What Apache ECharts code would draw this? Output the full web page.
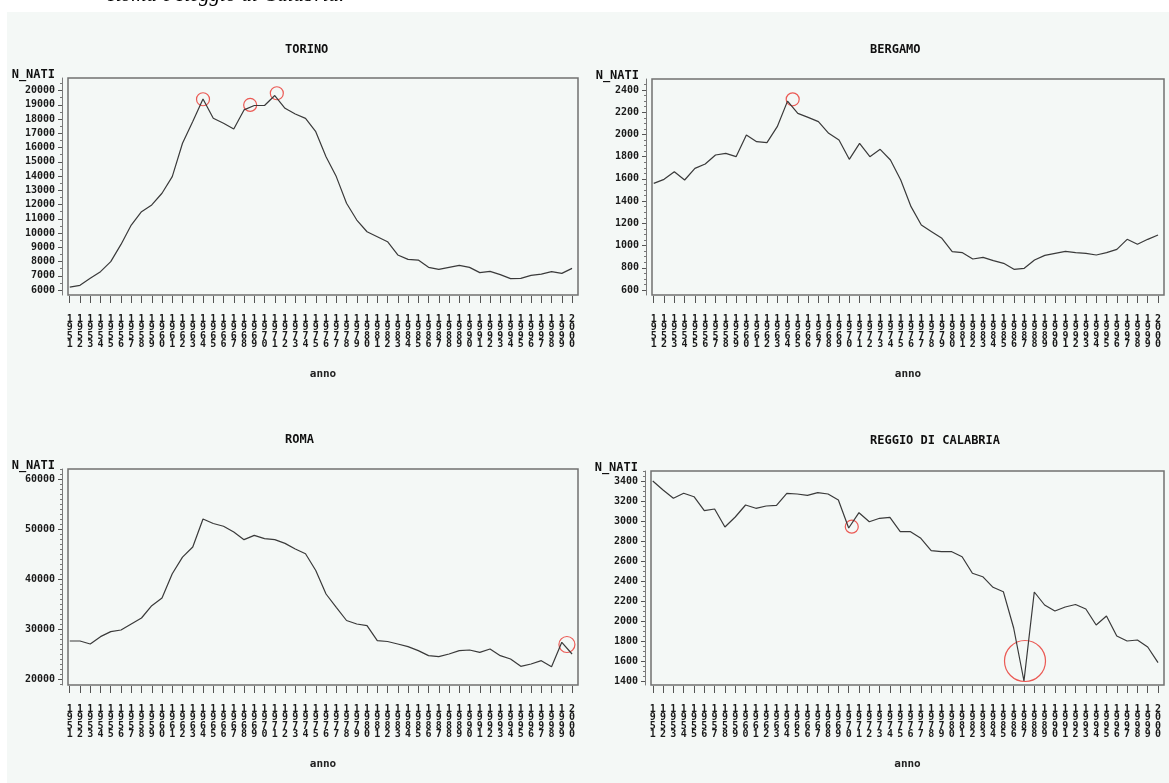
<!DOCTYPE html>
<html><head><meta charset="utf-8">
<script src="https://cdn.jsdelivr.net/npm/echarts@6/dist/echarts.min.js"></script>
<style>html,body{margin:0;padding:0;background:#fff}#c{width:1169px;height:783px}</style>
</head><body><div id="c"></div>
<script>
const years = [1951,1952,1953,1954,1955,1956,1957,1958,1959,1960,1961,1962,1963,1964,1965,1966,1967,1968,1969,1970,
  1971,1972,1973,1974,1975,1976,1977,1978,1979,1980,1981,1982,1983,1984,1985,1986,1987,1988,1989,1990,
  1991,1992,1993,1994,1995,1996,1997,1998,1999,2000];

const torino = [6200,6330,6820,7290,7990,9200,10560,11500,11970,12790,13960,16300,17820,19400,18050,17700,17300,18640,18950,18950,
  19650,18750,18350,18050,17110,15360,13960,12090,10910,10090,9740,9390,8460,8150,8100,7590,7450,7590,7730,7590,
  7220,7310,7080,6800,6820,7030,7120,7290,7170,7520];
const bergamo = [1560,1596,1665,1590,1695,1734,1815,1830,1800,1995,1935,1926,2070,2300,2190,2154,2115,2010,1950,1776,
  1920,1800,1866,1770,1590,1350,1185,1125,1065,945,936,879,894,864,840,786,795,870,912,930,
  948,936,930,915,936,966,1056,1011,1056,1095];
const roma = [27600,27600,27000,28470,29470,29800,31000,32200,34660,36200,41040,44380,46390,52000,51100,50550,49400,47870,48730,48070,
  47870,47130,46000,45060,41700,37000,34330,31700,31000,30670,27670,27500,27000,26470,25670,24670,24470,25000,25670,25800,
  25330,26000,24670,24000,22530,23000,23670,22470,27330,25000];
const reggio = [3400,3310,3227,3277,3243,3103,3120,2940,3040,3160,3127,3150,3157,3277,3270,3257,3283,3270,3210,2930,
  3083,2993,3027,3037,2893,2893,2827,2703,2693,2693,2643,2477,2443,2337,2293,1930,1400,2290,2160,2100,
  2140,2165,2120,1960,2050,1850,1800,1810,1740,1583];

const torinoTicks = [6000,7000,8000,9000,10000,11000,12000,13000,14000,15000,16000,17000,18000,19000,20000];
const bergamoTicks = [600,800,1000,1200,1400,1600,1800,2000,2200,2400];
const romaTicks = [20000,30000,40000,50000,60000];
const reggioTicks = [1400,1600,1800,2000,2200,2400,2600,2800,3000,3200,3400];

const torinoCircles = [[1964,19390],[1968.6,18990],[1971.2,19810]];
const bergamoCircles = [[1964.5,2316]];
const romaCircles = [[1999.5,26900]];
const reggioCircles = [[1970.3,2943]];
const reggioBigCircles = [[1987.1,1600]];

const titles = ['TORINO','BERGAMO','ROMA','REGGIO DI CALABRIA'];
const yName = 'N_NATI';
const xName = 'anno';

const panels = [
  {title:titles[0], values:torino, ticks:torinoTicks, minorStep:500, yMin:5650, yMax:20880,
   circles:[{d:torinoCircles,s:13}], grid:{left:68,top:78,width:510,height:217}, titleX:285, titleY:50},
  {title:titles[1], values:bergamo, ticks:bergamoTicks, minorStep:50, yMin:555, yMax:2499,
   circles:[{d:bergamoCircles,s:13}], grid:{left:652,top:79,width:512,height:216}, titleX:870, titleY:50},
  {title:titles[2], values:roma, ticks:romaTicks, minorStep:1000, yMin:18800, yMax:62000,
   circles:[{d:romaCircles,s:16}], grid:{left:68,top:469,width:510,height:216}, titleX:285, titleY:440},
  {title:titles[3], values:reggio, ticks:reggioTicks, minorStep:50, yMin:1360, yMax:3500,
   circles:[{d:reggioCircles,s:13},{d:reggioBigCircles,s:41}], grid:{left:651,top:471,width:513,height:214}, titleX:870, titleY:441}
];

const MONO = '"DejaVu Sans Mono", "Liberation Mono", monospace';
const grids = [], xAxes = [], yAxes = [], series = [], graphics = [];

graphics.push({type:'rect', shape:{x:0,y:0,width:1169,height:12}, style:{fill:'#ffffff'}, silent:true});
graphics.push({type:'rect', shape:{x:0,y:0,width:7,height:783}, style:{fill:'#ffffff'}, silent:true});
graphics.push({type:'text', x:108, y:6, style:{text:'Roma e Reggio di Calabria.', font:'italic 21px "Liberation Serif", serif', fill:'#000', verticalAlign:'bottom', lineHeight:21}, silent:true});

panels.forEach((p, i) => {
  grids.push(Object.assign({show:true, borderColor:'#707070', borderWidth:1.5, backgroundColor:'transparent'}, p.grid));
  xAxes.push({
    type:'value', gridIndex:i, min:1950.83, max:2000.58, offset:1, position:'bottom',
    splitLine:{show:false}, axisLine:{show:false},
    axisTick:{show:true, customValues:years, length:7, lineStyle:{color:'#555', width:1}},
    axisLabel:{customValues:years, formatter:v => String(v).split('').join('\n'),
      fontFamily:MONO, fontWeight:'bold', fontSize:10, lineHeight:8.5, color:'#1a1a1a', margin:19}
  });
  const minors = [];
  for (let v = Math.ceil(p.yMin / p.minorStep) * p.minorStep; v <= p.yMax; v += p.minorStep) {
    if (p.ticks.indexOf(v) < 0) minors.push(v);
  }
  yAxes.push({
    type:'value', gridIndex:i, min:p.yMin, max:p.yMax, offset:6, position:'left',
    splitLine:{show:false},
    axisLine:{show:true, lineStyle:{color:'#7a7a7a', width:1}},
    axisTick:{show:true, customValues:p.ticks, length:4, lineStyle:{color:'#555', width:1}},
    axisLabel:{customValues:p.ticks, formatter:v => String(v), fontFamily:MONO, fontWeight:'bold', fontSize:10, color:'#1a1a1a', margin:7}
  });
  yAxes.push({
    type:'value', gridIndex:i, min:p.yMin, max:p.yMax, offset:6, position:'left',
    splitLine:{show:false}, axisLine:{show:false},
    axisTick:{show:true, customValues:minors, length:2, lineStyle:{color:'#777', width:1}},
    axisLabel:{show:false}
  });
  series.push({
    type:'line', xAxisIndex:i, yAxisIndex:2*i, data:years.map((y,k)=>[y, p.values[k]]),
    showSymbol:false, symbol:'none', silent:true,
    lineStyle:{color:'#3a3a3a', width:1.2}
  });
  p.circles.forEach(c => {
    series.push({
      type:'scatter', xAxisIndex:i, yAxisIndex:2*i, data:c.d, symbol:'circle', symbolSize:c.s, silent:true,
      itemStyle:{color:'rgba(0,0,0,0)', borderColor:'#e8322c', borderWidth:1.2}
    });
  });
  const g = p.grid;
  graphics.push({type:'text', x:p.titleX, y:p.titleY, style:{text:p.title, font:'bold 12px ' + MONO, fill:'#111', verticalAlign:'middle'}, silent:true});
  graphics.push({type:'text', x:g.left - 13, y:g.top - 3, style:{text:yName, font:'bold 12px ' + MONO, fill:'#111', align:'right', verticalAlign:'middle'}, silent:true});
  graphics.push({type:'text', x:g.left + g.width/2, y:g.top + g.height + 79, style:{text:xName, font:'bold 11px ' + MONO, fill:'#222', align:'center', verticalAlign:'middle'}, silent:true});
});

const chart = echarts.init(document.getElementById('c'), null, {renderer:'canvas'});
chart.setOption({
  backgroundColor:'#f4f8f6',
  animation:false,
  grid:grids, xAxis:xAxes, yAxis:yAxes, series:series,
  graphic:{elements:graphics}
});
</script>
</body></html>
